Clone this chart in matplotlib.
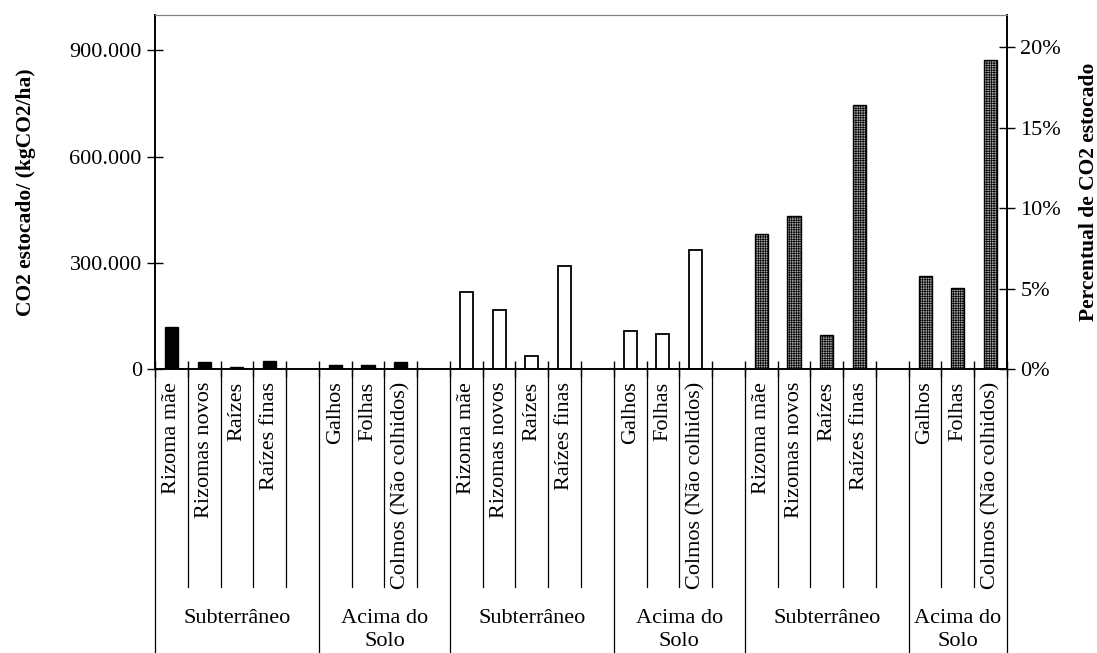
import matplotlib
matplotlib.use("Agg")
matplotlib.rcParams.update({
    "font.family": ["Liberation Serif", "DejaVu Serif"],
    "hatch.linewidth": 0.5,
})
import matplotlib.pyplot as plt
from matplotlib.ticker import FuncFormatter
import numpy as np

# ── Data ───────────────────────────────────────────────────────
sub_parts = ["Rizoma mãe", "Rizomas novos", "Raízes", "Raízes finas"]
above_parts = ["Galhos", "Folhas", "Colmos (Não colhidos)"]
group_names = ["Subterrâneo", "Acima do\nSolo"]

# values per part (4 underground + 3 above ground)
co2_black = [120000, 19000, 5600, 22600, 11000, 11000, 19000]
co2_white = [218800, 167900, 36800, 289600, 106600, 99000, 335900]
pct_grid = [8.4, 9.5, 2.1, 16.4, 5.8, 5.05, 19.2]

# ── Category slots (with blank spacer after each group but the last) ──
labels, groups, slots = [], [], []
for s in range(3):
    pos = []
    for g, parts in enumerate([sub_parts, above_parts]):
        start = len(labels)
        for p in parts:
            pos.append(len(labels))
            labels.append(p)
        if not (s == 2 and g == 1):
            labels.append("")
        groups.append((group_names[g], start, len(labels)))
    slots.append(np.array(pos) + 0.5)
n = len(labels)

# ── Plot ────────────────────────────────────────────────────────
fig = plt.figure(figsize=(10.97, 6.53), dpi=100)
ax = fig.add_axes([155 / 1097, 1 - 369 / 653, 852 / 1097, 354 / 653])
ax2 = ax.twinx()

w = 0.4
ax.bar(slots[0], co2_black, w, color="black", edgecolor="black", lw=1)
ax.bar(slots[1], co2_white, w, color="white", edgecolor="black", lw=1.3)
ax2.bar(slots[2], pct_grid, w, color="#a8a8a8", edgecolor="black",
        lw=1.0, hatch="+++++++")

ax.set_xlim(0, n)
ax.set_ylim(0, 1000000)
ax2.set_ylim(0, 22)
ax.set_yticks([0, 300000, 600000, 900000])
ax.yaxis.set_major_formatter(FuncFormatter(
    lambda v, _: f"{int(v):,}".replace(",", ".")))
ax2.set_yticks([0, 5, 10, 15, 20])
ax2.yaxis.set_major_formatter(FuncFormatter(lambda v, _: f"{int(v)}%"))

for a in (ax, ax2):
    a.spines["top"].set_color("#808080")
    a.spines["top"].set_linewidth(0.8)
    a.spines["bottom"].set_linewidth(1.2)
    a.spines["left"].set_linewidth(1.2)
    a.spines["right"].set_linewidth(1.2)
ax.tick_params(axis="y", direction="inout", length=11, width=1,
               labelsize=16, pad=4)
ax2.tick_params(axis="y", direction="inout", length=11, width=1,
                labelsize=16, pad=4)
ax.set_xticks(np.arange(n + 1))
ax.set_xticklabels([])
ax.tick_params(axis="x", direction="inout", length=12, width=1)

ax.set_ylabel("CO2 estocado/ (kgCO2/ha)", fontsize=15.5,
              fontweight="bold", labelpad=24)
ax2.set_ylabel("Percentual de CO2 estocado", fontsize=15.5,
               fontweight="bold", labelpad=13)

# multi-level category axis
tr = ax.get_xaxis_transform()
y_inner = (369 - 587) / 354
y_low = -1.0
for i, lab in enumerate(labels):
    ax.text(i + 0.5, -0.036, lab, rotation=90, ha="center", va="top",
            fontsize=16, transform=tr)
bounds = {0, n} | {b for _, a_, b in groups} | {a_ for _, a_, _b in groups}
for x in range(n + 1):
    y_end = y_low if x in bounds else y_inner
    ax.plot([x, x], [0, y_end], color="black", lw=0.9,
            transform=tr, clip_on=False)
for name, a_, b in groups:
    ax.text((a_ + b) / 2, -0.678, name, ha="center", va="top",
            fontsize=16, linespacing=1.25, transform=tr)

fig.savefig("out.png", dpi=100)
